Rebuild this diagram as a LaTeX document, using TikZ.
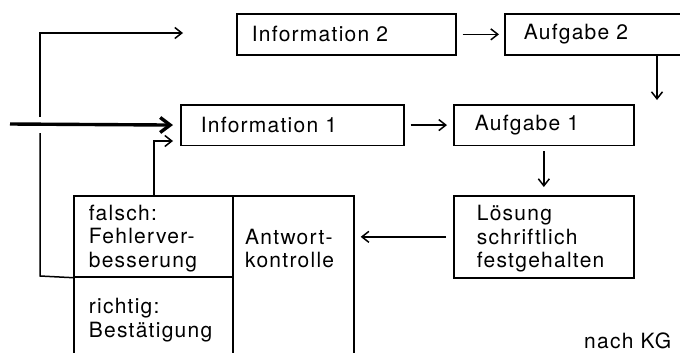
\documentclass[tikz,border=0pt]{standalone}
\usepackage{fontspec}
\setmainfont{TeX Gyre Heros}[LetterSpace=6]
\usetikzlibrary{arrows.meta}
\newcommand{\tstrut}{\rule{0pt}{22pt}}
\newcommand{\bstrut}{\rule[-7pt]{0pt}{7pt}}
\begin{document}
\begin{tikzpicture}[x=1pt,y=-1pt,
  every node/.style={font=\fontsize{21}{23.5}\selectfont},
  box/.style={draw, line width=1.7pt, anchor=north west, inner ysep=0pt, align=left},
  plain/.style={line width=1.5pt},
  conn/.style={line width=1.5pt, -{Straight Barb[length=7pt,width=11pt]}},
  thickarr/.style={line width=3.4pt, -{Straight Barb[length=10pt,width=15pt]}},
  txt/.style={anchor=north west, inner sep=0pt, align=left}
]
\fill[white] (0,0) rectangle (680,353);
\useasboundingbox (0,0) rectangle (680,353);

% boxes
\node[box, inner xsep=15pt, text width=189pt, minimum height=41pt] (i2) at (236,13) {Information 2};
\node[box, inner xsep=19pt, text width=160pt, minimum height=41pt] (a2) at (504,13) {Aufgabe 2};
\node[box, inner xsep=20pt, text width=183pt, minimum height=40.5pt] (i1) at (180,104) {Information 1};
\node[box, inner xsep=21pt, text width=138pt, minimum height=40.5pt] (a1) at (453,104) {Aufgabe 1};
\node[box, inner xsep=23pt, text width=134pt, minimum height=82pt] (ls) at (453,195)
  {\tstrut Lösung\\schriftlich\\festgehalten\bstrut};
\node[box, inner xsep=15pt, text width=129pt, minimum height=81pt] (fb) at (73,195)
  {\tstrut falsch:\\Fehlerver-\\besserung\bstrut};
\node[box, inner xsep=15pt, text width=129pt, minimum height=82.5pt] (rb) at (73,276)
  {\tstrut richtig:\\Bestätigung\bstrut};
\node[box, inner sep=0pt, minimum width=121pt, minimum height=180pt] (ak) at (232,195) {};
\node[txt] (akt) at (245,222) {\tstrut Antwort-\\kontrolle};
\node[anchor=base west, inner sep=0pt] (nkg) at (584,348) {nach KG};

% coordinates for free ends
\coordinate (a2d) at (657,100);
\coordinate (in) at (10,124);
\coordinate (fbk) at (154,141);
\coordinate (fl1) at (40,276);
\coordinate (gl) at (40,133);
\coordinate (gh) at (40,117);
\coordinate (top) at (40,33);
\coordinate (fend) at (183,33);

% connectors
\draw[conn, shorten <=6pt, shorten >=5pt] (i2.east) -- (a2.west);
\draw[conn] (a2.south -| a2d) -- (a2d);
\draw[conn, shorten <=6pt, shorten >=6pt] (i1.east) -- (a1.west);
\draw[conn, shorten <=5pt, shorten >=8pt] (a1.south) -- (ls.north);
\draw[conn, shorten <=7pt, shorten >=6pt] (ls.west) -- (ls.west -| ak.east);
\draw[thickarr, shorten >=7pt] (in) -- (i1.west);
\draw[conn, shorten >=7pt] (fb.north -| fbk) -- (fbk) -- (fbk -| i1.west);
\draw[plain] (fb.south west) -- (fl1) -- (gl);
\draw[conn] (gh) -- (top) -- (fend);
\end{tikzpicture}
\end{document}
